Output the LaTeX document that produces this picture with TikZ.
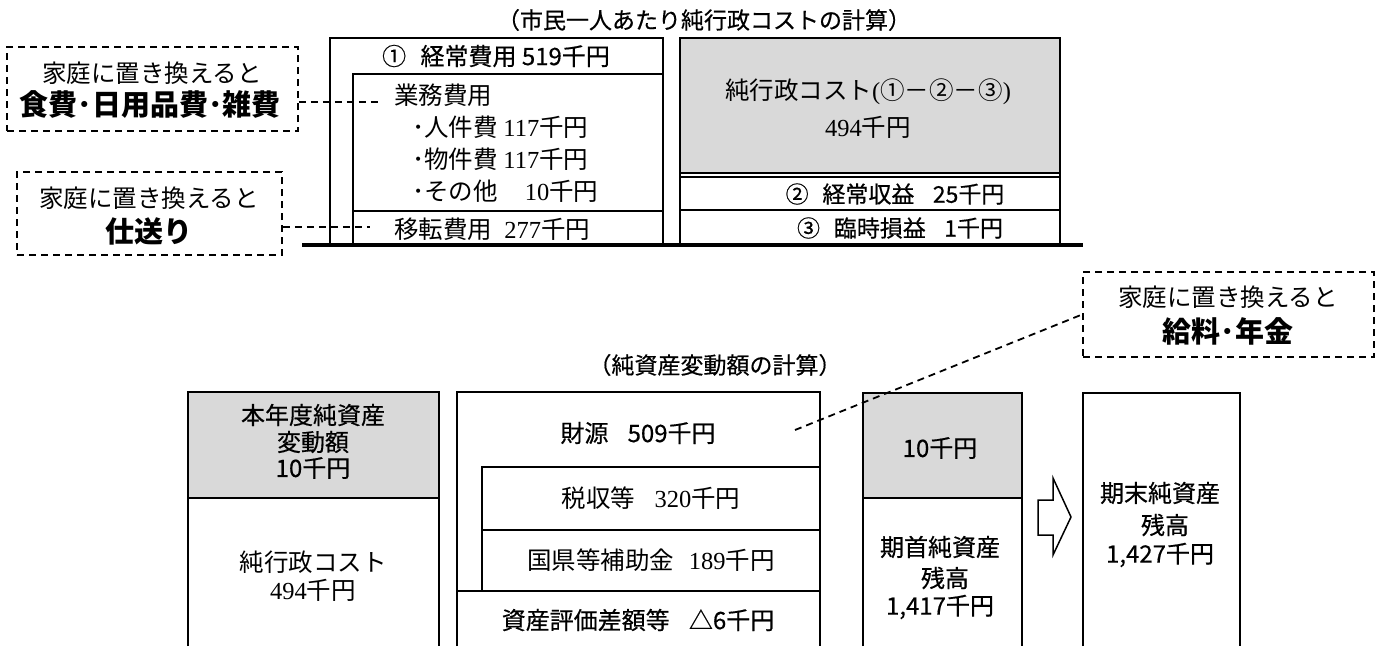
\documentclass[tikz,border=0pt]{standalone}
\usepackage{fontspec}
\setmainfont{Noto Sans CJK JP}
\newfontfamily\gothm{Noto Sans CJK JP}[FakeBold=0.5]
\newfontfamily\ser{Liberation Serif}
\tikzset{
  x=1pt, y=-1pt,
  frame/.style={line width=2.2pt, line join=miter},
  thin2/.style={line width=1.4pt},
  base/.style={line width=4.5pt},
  callout/.style={draw, line width=1.8pt, dash pattern=on 7pt off 5pt, inner sep=0pt},
  conn/.style={line width=1.8pt, dash pattern=on 7pt off 5pt},
  goth/.style={font=\gothm\fontsize{24}{28}\selectfont, inner sep=0pt},
  gothS/.style={font=\gothm\fontsize{23}{27}\selectfont, inner sep=0pt},
  minc/.style={font=\fontsize{24.5}{28}\selectfont, inner sep=0pt},
  bigb/.style={font=\fontsize{29}{33}\selectfont\bfseries, inner sep=0pt},
  grayfill/.style={fill=gray!30}
}
\begin{document}
\begin{tikzpicture}
\useasboundingbox (0,0) rectangle (1389,646);

% ---------- top section ----------
\node[gothS] (title1) at (704,20) {（市民一人あたり純行政コストの計算）};

% box 1 (経常費用)
\draw[frame] (330,245) -- (330,38) -- (663,38) -- (663,245);
\draw[frame] (353,245) -- (353,74) -- (663,74);
\draw[frame] (353,211) -- (663,211);
\node[goth] (keijo) at (496,56) {①\hspace{0.6em}経常費用 519千円};
\node[minc, anchor=west] (gyomu) at (394,95) {業務費用};
\node[minc, anchor=west] (jinken) at (412,127) {･人件費 {\ser 117}千円};
\node[minc, anchor=west] (bukken) at (412,159) {･物件費 {\ser 117}千円};
\node[minc, anchor=west] (sonota) at (412,191) {･その他\hspace{0.6em}\hphantom{\ser 1}{\ser 10}千円};
\node[minc, anchor=west] (iten) at (394,229) {移転費用\hspace{0.5em}{\ser 277}千円};

% box 2 (純行政コスト)
\fill[grayfill] (680,38) rectangle (1060,173);
\draw[frame] (680,245) -- (680,38) -- (1060,38) -- (1060,245);
\draw[thin2] (680,173) -- (1060,173);
\draw[thin2] (680,177) -- (1060,177);
\draw[frame] (680,210) -- (1060,210);
\node[minc] (netcost) at (868,92) {純行政コスト{\ser (}①－②－③{\ser )}};
\node[minc] (netval) at (868,127) {{\ser 494}千円};
\node[gothS] (shueki) at (895,194) {②\hspace{0.6em}経常収益\hspace{0.8em}25千円};
\node[gothS] (rinji) at (900,228) {③\hspace{0.6em}臨時損益\hspace{0.8em}1千円};

% base line
\draw[base] (302,245) -- (1083,245);

% callout A
\node[callout, minimum width=291pt, minimum height=84pt] (boxA) at (152.5,89) {};
\node[minc] (boxAt) at (152,73) {家庭に置き換えると};
\node[bigb] (food) at (150,105) {食費･日用品費･雑費};
\coordinate (aEnd) at (380,102);
\draw[conn] (boxA.east |- aEnd) -- (aEnd);

% callout B
\node[callout, minimum width=265pt, minimum height=83pt] (boxB) at (149.5,213.5) {};
\node[minc] (boxBt) at (149,198) {家庭に置き換えると};
\node[bigb] (shiokuri) at (149,231) {仕送り};
\coordinate (bEnd) at (370,227);
\draw[conn] (boxB.east |- bEnd) -- (bEnd);

% ---------- bottom section ----------
\node[gothS] (title2) at (715,365) {（純資産変動額の計算）};

% box L
\fill[grayfill] (188,392) rectangle (439,498);
\draw[frame] (188,646) -- (188,392) -- (439,392) -- (439,646);
\draw[frame] (188,498) -- (439,498);
\node[goth] (honnen1) at (313,415) {本年度純資産};
\node[goth] (honnen2) at (313,442) {変動額};
\node[goth] (honnen3) at (313,468) {10千円};
\node[minc] (jun1) at (313,562) {純行政コスト};
\node[minc] (jun2) at (313,590) {{\ser 494}千円};

% box M
\draw[frame] (457,646) -- (457,392) -- (820,392) -- (820,646);
\draw[frame] (482,591) -- (482,467) -- (820,467);
\draw[frame] (482,530) -- (820,530);
\draw[frame] (457,591) -- (820,591);
\node[goth] (zaigen) at (638,433) {財源\hspace{0.8em}509千円};
\node[minc] (zeishu) at (651,498) {税収等\hspace{0.8em}{\ser 320}千円};
\node[minc] (hojo) at (651,560) {国県等補助金\hspace{0.6em}{\ser 189}千円};
\node[goth] (shisan) at (638,620) {資産評価差額等\hspace{0.8em}△6千円};

% box R1
\fill[grayfill] (863,393) rectangle (1022,498);
\draw[frame] (863,646) -- (863,393) -- (1022,393) -- (1022,646);
\draw[frame] (863,498) -- (1022,498);
\node[goth] (r1a) at (940,448) {10千円};
\node[goth] (r1b) at (940,547) {期首純資産};
\node[goth] (r1c) at (945,578) {残高};
\node[goth] (r1d) at (940,607) {1,417千円};

% arrow
\draw[line width=1.5pt, line join=miter, fill=white] (1038,500) -- (1053,500) -- (1053,478) -- (1071,517) -- (1053,555) -- (1053,535) -- (1038,535) -- cycle;

% box R2
\draw[frame] (1083,646) -- (1083,393) -- (1240,393) -- (1240,646);
\node[goth] (r2a) at (1160,493) {期末純資産};
\node[goth] (r2b) at (1165,525) {残高};
\node[goth] (r2c) at (1160,555) {1,427千円};

% callout C
\node[callout, minimum width=291pt, minimum height=85pt] (boxC) at (1228.5,314.5) {};
\node[minc] (boxCt) at (1228,297) {家庭に置き換えると};
\node[bigb] (salary) at (1228,331) {給料･年金};
\coordinate (cEnd) at (795,430);
\draw[conn] (cEnd) -- (boxC.west);
\end{tikzpicture}
\end{document}
